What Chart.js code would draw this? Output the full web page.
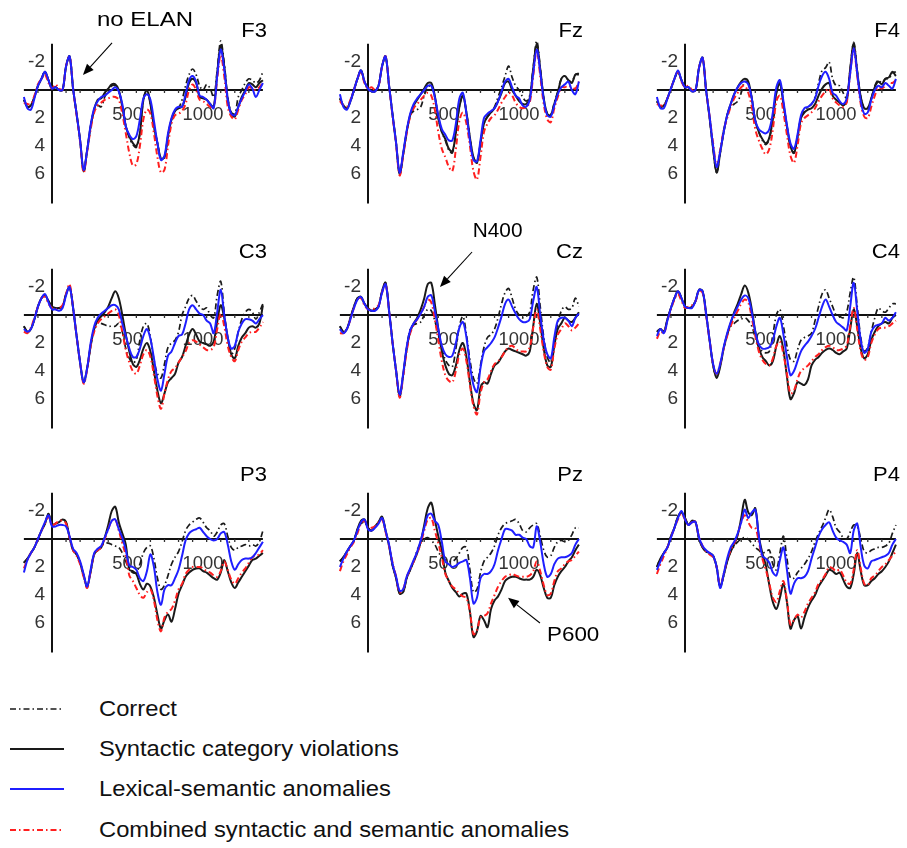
<!DOCTYPE html>
<html>
<head>
<meta charset="utf-8">
<script src="https://cdn.jsdelivr.net/npm/chart.js@4.4.1/dist/chart.umd.min.js"></script>
<style>
  html, body { margin: 0; padding: 0; background: #fff; }
  body { width: 907px; height: 848px; position: relative; overflow: hidden;
         font-family: "Liberation Sans", Arial, sans-serif; }
  canvas.panel { position: absolute; }
  .leg-line { position: absolute; left: 8px; }
  .leg-text { position: absolute; left: 99px; font-size: 22px; color: #111;
              line-height: 26px; white-space: nowrap; transform-origin: left center;
              transform: scaleX(1.08); }
</style>
</head>
<body>
<script>
// time axis (ms), shared by every panel
const times = [
  -200, -175, -150, -125, -100, -75, -50, -25,
  0, 25, 50, 75, 100, 125, 150, 175,
  200, 225, 250, 275, 300, 325, 350, 375,
  400, 425, 450, 475, 500, 525, 550, 575,
  600, 625, 650, 675, 700, 725, 750, 775,
  800, 825, 850, 875, 900, 925, 950, 975,
  1000, 1025, 1050, 1075, 1100, 1125, 1150, 1175,
  1200, 1225, 1250, 1275, 1300, 1325, 1350, 1375,
  1400, 1425, 1450, 1475, 1500
];

const yTicks = [-2, 2, 4, 6];
const yTickLabels = ['-2', '2', '4', '6'];
const xTicks = [500, 1000];
const xTickLabels = ['500', '1000'];
const xMinorTicks = [-100, 100, 200, 300, 400, 500, 600, 700, 800, 900, 1000, 1100, 1200, 1300, 1400];

const seriesNames = [
  'Correct',
  'Syntactic category violations',
  'Lexical-semantic anomalies',
  'Combined syntactic and semantic anomalies'
];

// ---- F3 ----
const f3Correct = [
  0.7, 1.2, 1.1, 0.5, -0.3, -0.8, -1.3, -0.7,
  -0.1, -0.2, 0, 0, -1.7, -2.4, -0.1, 1.7,
  3.6, 5.8, 4.3, 2.6, 1.4, 1.1, 1.2, 0.5,
  0, -0.3, -0.3, 0.1, 1.2, 2.6, 3.4, 3.9,
  4.1, 3.1, 0.7, 0, 1.0, 2.6, 3.8, 4.9,
  4.8, 3.3, 2.1, 1.5, 1.3, 0.7, -0.3, -1.1,
  -1.5, -1.1, -0.3, 0, -0.4, -0.1, 0.5, -1.4,
  -3.5, -1.9, 0.5, 1.6, 1.7, 0.5, 0, -0.5,
  -0.8, -0.7, -0.5, -0.7, -1.3
];
const f3Syntactic = [
  0.7, 1.2, 1.1, 0.5, -0.3, -0.8, -1.3, -0.7,
  -0.1, -0.2, 0, 0, -1.7, -2.4, -0.1, 1.7,
  3.6, 5.8, 4.3, 2.6, 1.4, 0.7, 0.6, 0.2,
  -0.1, -0.4, -0.4, 0, 1.2, 2.6, 3.3, 3.8,
  4.0, 3.1, 0.7, 0, 1.0, 2.6, 3.8, 4.9,
  4.8, 3.3, 2.1, 1.5, 1.3, 1.2, 0.5, -0.5,
  -0.8, -0.5, 0.5, 0.6, 0.7, 1.0, 1.2, -1.2,
  -3.2, -1.7, 0.7, 1.7, 1.9, 1.2, 0.5, 0,
  -0.5, -0.4, -0.2, -0.5, -0.7
];
const f3Lexical = [
  0.5, 1.3, 1.4, 0.6, -0.3, -0.8, -1.3, -0.7,
  -0.1, -0.2, 0, 0, -1.7, -2.4, -0.1, 1.7,
  3.6, 5.7, 4.3, 2.5, 1.3, 0.8, 0.5, 0.4,
  0.2, 0, -0.2, 0.1, 1.0, 2.6, 3.2, 3.5,
  3.3, 2.1, 0.6, 0.3, 0.7, 2.2, 3.8, 5.0,
  4.7, 3.1, 2.0, 1.4, 1.2, 1.2, 0.3, -0.7,
  -1.0, -0.6, 0.4, 0.5, 0.7, 1.0, 1.3, -1.0,
  -2.9, -1.5, 0.7, 1.7, 1.8, 1.2, 0.6, 0.1,
  -0.4, -0.1, 0.5, 0, -0.5
];
const f3Combined = [
  0.9, 1.0, 1.0, 0.4, -0.4, -0.8, -1.1, -0.5,
  -0.1, -0.4, -0.1, 0, -1.7, -2.4, -0.1, 1.8,
  3.7, 5.9, 4.4, 2.8, 1.6, 1.1, 0.9, 0.7,
  0.6, 0.5, 0.5, 0.7, 1.7, 3.1, 4.5, 5.4,
  5.3, 4.0, 2.1, 1.4, 1.7, 3.1, 4.8, 5.9,
  5.7, 4.0, 2.4, 1.8, 1.7, 1.5, 1.0, 0,
  -0.4, 0, 0.7, 0.8, 1.0, 1.2, 1.3, -0.8,
  -2.5, -1.0, 1.2, 1.9, 2.1, 1.4, 0.7, 0.3,
  -0.2, -0.1, 0, -0.2, -0.5
];

// ---- Fz ----
const fzCorrect = [
  0.6, 1.1, 1.3, 0.8, 0, -0.8, -1.4, -0.6,
  -0.1, 0.1, 0.1, -0.3, -1.7, -2.4, -0.3, 1.8,
  3.8, 6.0, 4.6, 3.0, 1.8, 1.5, 1.4, 1.2,
  0.4, -0.2, -0.3, 0.5, 2.0, 3.0, 3.6, 4.3,
  4.5, 3.1, 1.2, 0.4, 1.6, 3.4, 4.8, 5.2,
  3.8, 2.4, 1.9, 1.6, 1.2, 0.5, -0.2, -1.0,
  -1.7, -0.9, -0.3, 0, 0.5, 0.8, 0.4, -1.6,
  -3.5, -1.6, 0.6, 1.7, 1.8, 0.9, 0.1, -0.8,
  -1.0, -0.7, -0.6, -1.1, -1.2
];
const fzSyntactic = [
  0.6, 1.1, 1.3, 0.8, 0, -0.8, -1.4, -0.6,
  -0.1, 0.1, 0.1, -0.3, -1.7, -2.4, -0.3, 1.8,
  3.8, 6.0, 4.6, 3.0, 1.8, 1.1, 0.7, 0.3,
  -0.1, -0.5, -0.5, 0.4, 2.0, 3.0, 3.5, 4.2,
  4.4, 3.0, 1.2, 0.4, 1.6, 3.4, 4.8, 5.2,
  3.8, 2.4, 1.9, 1.6, 1.3, 0.8, 0.2, -0.5,
  -0.6, 0, 0.4, 0.8, 1.0, 1.0, 0.6, -1.5,
  -3.3, -1.5, 0.6, 1.7, 1.8, 1.0, 0.2, -0.8,
  -1.0, -0.7, -0.5, -1.1, -1.1
];
const fzLexical = [
  0.3, 1.2, 1.4, 0.8, 0, -0.8, -1.4, -0.6,
  -0.1, 0.1, 0.1, -0.3, -1.7, -2.4, -0.3, 1.8,
  3.8, 5.9, 4.5, 2.9, 1.7, 1.0, 0.6, 0.3,
  0, -0.3, -0.3, 0.5, 1.8, 2.8, 3.2, 3.6,
  3.6, 2.4, 0.6, 0.2, 1.7, 3.6, 5.0, 5.1,
  3.6, 2.0, 1.7, 1.5, 1.3, 0.8, 0.1, -0.6,
  -0.8, -0.2, 0.4, 0.6, 1.1, 1.2, 0.7, -1.2,
  -2.9, -1.3, 0.7, 1.8, 1.9, 1.1, 0.3, -0.2,
  -0.4, -0.6, 0, 0.3, -0.6
];
const fzCombined = [
  0.8, 1.1, 1.2, 0.7, 0, -0.8, -1.3, -0.5,
  -0.1, -0.2, 0, -0.3, -1.7, -2.4, -0.3, 1.9,
  3.9, 6.1, 4.7, 3.1, 1.9, 1.3, 1.0, 0.7,
  0.4, 0.2, 0.4, 1.4, 3.0, 4.2, 4.8, 5.5,
  5.8, 4.2, 2.2, 1.6, 2.4, 4.0, 5.8, 6.4,
  4.8, 3.0, 2.4, 2.0, 1.8, 1.4, 0.9, 0.5,
  0.2, 0.4, 0.9, 1.2, 1.3, 1.2, 0.9, -1.0,
  -2.8, -1.0, 1.0, 2.1, 2.3, 1.3, 0.5, -0.2,
  -0.2, -0.3, -0.2, -0.1, -0.6
];

// ---- F4 ----
const f4Correct = [
  0.8, 1.2, 1.1, 0.6, -0.1, -0.8, -1.3, -0.7,
  -0.2, -0.2, 0.1, 0, -1.6, -2.3, 0, 2.0,
  4.2, 5.9, 4.5, 3.0, 1.8, 1.2, 1.0, 0.8,
  0.2, -0.6, -0.5, 0.6, 2.2, 3.0, 3.6, 3.9,
  3.5, 2.0, 0.2, -0.5, 1.0, 2.6, 4.0, 4.5,
  3.4, 2.0, 1.5, 1.2, 1.0, 0.5, -0.5, -1.4,
  -1.6, -2.0, -0.8, -0.3, -0.3, 0.2, 0.6, -1.5,
  -3.4, -1.4, 0.5, 1.3, 1.3, 0.6, -0.3, -0.7,
  -0.5, -0.8, -0.8, -1.2, -1.3
];
const f4Syntactic = [
  0.8, 1.2, 1.1, 0.6, -0.1, -0.8, -1.3, -0.7,
  -0.2, -0.2, 0.1, 0, -1.6, -2.3, 0, 2.0,
  4.2, 5.9, 4.5, 3.0, 1.8, 1.0, 0.3, -0.2,
  -0.6, -0.8, -0.6, 0.6, 2.2, 3.0, 3.5, 3.8,
  3.4, 2.0, 0.2, -0.5, 1.0, 2.6, 4.0, 4.5,
  3.4, 2.0, 1.6, 1.4, 1.3, 1.0, 0.4, -0.1,
  -0.4, -0.5, 0.4, 0.7, 0.9, 1.1, 0.8, -1.5,
  -3.3, -1.3, 0.5, 1.3, 1.3, 0.6, -0.2, -0.6,
  -0.4, -0.8, -0.9, -1.3, -1.0
];
const f4Lexical = [
  0.5, 1.3, 1.3, 0.6, -0.1, -0.8, -1.4, -0.7,
  -0.2, -0.2, 0.1, 0, -1.6, -2.3, 0, 1.9,
  4.0, 5.5, 4.4, 3.0, 1.8, 1.0, 0.3, -0.2,
  -0.5, -0.6, -0.4, 0.6, 2.2, 2.8, 3.0, 3.1,
  2.8, 1.6, -0.2, -0.7, 0.8, 2.5, 3.8, 4.2,
  3.2, 1.8, 1.3, 1.2, 1.0, 0.6, -0.3, -1.0,
  -1.3, -0.8, 0.2, 0.4, 0.8, 1.0, 0.6, -1.2,
  -3.0, -1.2, 0.8, 1.7, 1.6, 0.7, 0, -0.3,
  -0.2, -0.5, -0.3, -0.1, -0.8
];
const f4Combined = [
  1.0, 1.1, 1.1, 0.6, -0.1, -0.8, -1.3, -0.6,
  -0.2, -0.3, 0, 0, -1.6, -2.3, 0, 1.9,
  3.8, 5.4, 4.3, 2.9, 2.0, 1.2, 0.6, 0.2,
  -0.2, -0.3, 0.2, 1.2, 2.8, 3.6, 4.2, 4.6,
  4.2, 2.8, 0.8, 0.4, 1.6, 3.2, 4.7, 5.2,
  4.0, 2.4, 2.0, 1.8, 1.6, 1.3, 0.8, 0.4,
  0.1, -0.1, 0.6, 0.9, 1.1, 1.2, 0.9, -1.2,
  -2.9, -1.0, 1.0, 1.9, 2.0, 1.2, 0.4, -0.2,
  -0.1, -0.3, -0.5, -0.5, -0.7
];

// ---- C3 ----
const c3Correct = [
  0.8, 1.2, 1.0, 0.3, -0.6, -1.2, -1.4, -1.0,
  -0.6, -0.5, -0.5, -0.6, -1.5, -2.0, -0.5, 1.5,
  3.4, 4.8, 3.8, 2.2, 1.0, 0.5, 0.6, 0.7,
  0.8, 0.8, 0.8, 0.6, 1.2, 2.4, 3.1, 3.4,
  3.2, 1.8, 0.8, 0.6, 1.6, 3.2, 4.2, 4.5,
  3.5, 2.3, 2.0, 1.8, 1.2, 0, -0.6, -1.2,
  -1.4, -1.0, -0.6, -0.4, -0.5, 0, 0.2, -1.4,
  -2.4, -0.2, 1.8, 2.8, 2.4, 1.2, 0.3, -0.2,
  -0.4, -0.2, 0.3, -0.2, -0.8
];
const c3Syntactic = [
  0.8, 1.2, 1.0, 0.3, -0.6, -1.2, -1.4, -1.0,
  -0.6, -0.5, -0.5, -0.6, -1.5, -2.0, -0.5, 1.5,
  3.4, 4.8, 3.8, 2.2, 1.0, 0.4, 0.1, -0.2,
  -0.6, -1.2, -1.7, -1.2, 0, 1.4, 2.6, 3.5,
  3.7, 3.2, 2.4, 2.0, 2.6, 4.0, 5.4, 6.3,
  5.6, 4.8, 4.5, 4.2, 3.4, 3.0, 2.2, 1.4,
  1.0, 1.4, 1.9, 2.0, 2.1, 2.2, 1.9, 0.5,
  -0.7, 0.2, 1.6, 2.8, 3.1, 2.2, 1.6, 1.3,
  0.9, 0.8, 0.9, 0.6, -0.7
];
const c3Lexical = [
  1.0, 1.2, 1.0, 0.3, -0.6, -1.2, -1.5, -0.9,
  -0.4, -0.4, -0.3, -0.5, -1.4, -2.0, -0.5, 1.5,
  3.4, 4.8, 3.8, 2.0, 0.8, 0.2, -0.1, -0.3,
  -0.5, -0.7, -0.7, -0.4, 0.6, 1.5, 2.4, 3.0,
  3.0, 2.4, 1.5, 1.0, 1.7, 3.1, 4.6, 5.4,
  4.2, 2.9, 2.6, 2.0, 1.5, 1.4, 0.6, -0.4,
  -0.7, -0.4, -0.1, 0, 0.4, 0.6, 1.3, -0.2,
  -1.8, 0, 1.6, 2.4, 2.2, 1.2, 0.6, 0.3,
  0.3, 0.4, 0.6, 0.3, 0
];
const c3Combined = [
  1.2, 1.3, 0.9, 0.2, -0.6, -1.2, -1.3, -0.8,
  -0.5, -0.4, -0.5, -0.7, -1.5, -2.2, -0.5, 1.5,
  3.4, 4.9, 3.9, 2.2, 1.2, 0.6, 0.3, 0.1,
  -0.1, -0.3, -0.4, 0, 1.2, 2.5, 3.4, 4.0,
  4.2, 3.6, 2.8, 2.5, 3.0, 4.3, 5.8, 6.7,
  5.6, 4.6, 4.0, 3.8, 3.4, 3.0, 2.6, 2.0,
  1.8, 1.9, 2.1, 2.3, 2.5, 2.5, 2.3, 1.0,
  -0.1, 0.8, 2.2, 3.0, 3.3, 2.5, 1.9, 1.6,
  1.3, 1.2, 1.2, 0.9, 0.5
];

// ---- Cz ----
const czCorrect = [
  0.8, 1.2, 1.0, 0.2, -0.6, -1.2, -1.2, -0.8,
  -0.5, -0.3, -0.4, -0.6, -1.7, -2.3, -0.3, 2.0,
  4.0, 5.8, 4.3, 2.4, 1.0, 0.7, 0.6, 0.5,
  0, -0.4, -0.3, 0.4, 1.4, 2.4, 3.2, 3.6,
  3.7, 2.4, 0.8, 0.1, 1.4, 3.2, 4.5, 4.9,
  3.6, 2.3, 1.6, 1.4, 1.0, 0.2, -0.8, -1.6,
  -1.9, -1.2, -0.4, 0, 0.2, 0.1, -0.2, -1.8,
  -2.7, -0.6, 1.6, 3.0, 3.4, 1.8, 0.6, -0.3,
  -0.6, -0.4, -0.5, -1.2, -0.6
];
const czSyntactic = [
  0.8, 1.2, 1.0, 0.2, -0.6, -1.2, -1.3, -0.8,
  -0.5, -0.3, -0.4, -0.6, -1.7, -2.3, -0.3, 2.0,
  4.0, 5.8, 4.3, 2.4, 1.2, 0.6, 0.2, -0.4,
  -1.2, -2.2, -2.3, -0.8, 1.0, 2.6, 3.6, 4.2,
  4.3, 3.6, 2.5, 2.0, 3.0, 4.8, 6.3, 6.8,
  5.2, 4.8, 4.9, 4.2, 3.6, 3.4, 3.0, 2.6,
  2.4, 2.5, 2.6, 2.7, 2.8, 2.9, 2.6, 0.8,
  -0.8, 0.6, 2.4, 3.6, 3.7, 2.2, 1.0, 0.6,
  0.2, 0.4, 0.5, 0.2, -0.2
];
const czLexical = [
  1.0, 1.3, 1.0, 0.3, -0.5, -1.1, -1.3, -0.8,
  -0.4, -0.3, -0.3, -0.6, -1.6, -2.2, -0.3, 2.0,
  4.0, 5.7, 4.2, 2.3, 1.1, 0.6, 0.3, -0.1,
  -0.6, -1.3, -1.4, -0.3, 1.0, 2.2, 2.8, 3.0,
  2.9, 2.0, 0.9, 0.5, 1.6, 3.6, 5.0, 5.5,
  3.8, 2.6, 2.3, 2.0, 1.6, 0.9, 0.1, -0.8,
  -1.1, -0.6, -0.1, 0.3, 0.5, 0.5, 0.3, -1.0,
  -2.0, 0, 1.8, 2.8, 3.1, 1.6, 0.4, 0.2,
  0.2, 0.4, 0.8, 0.2, -0.1
];
const czCombined = [
  1.3, 1.3, 1.0, 0.3, -0.5, -1.1, -1.2, -0.7,
  -0.4, -0.4, -0.5, -0.7, -1.6, -2.2, -0.3, 2.0,
  4.0, 5.9, 4.4, 2.6, 1.3, 0.7, 0.3, -0.1,
  -0.6, -1.1, -0.9, 0.3, 1.8, 3.3, 4.3, 4.7,
  4.8, 4.0, 2.8, 2.4, 3.3, 5.0, 6.5, 7.1,
  5.6, 4.8, 4.6, 4.0, 3.5, 3.3, 3.0, 2.6,
  2.3, 2.2, 2.4, 2.6, 2.6, 2.6, 2.3, 0.9,
  -0.4, 1.0, 2.6, 3.7, 3.9, 2.4, 1.4, 1.0,
  0.6, 0.8, 1.1, 0.9, 0.6
];

// ---- C4 ----
const c4Correct = [
  1.2, 1.0, 1.2, 0.3, -0.5, -1.2, -1.7, -1.2,
  -0.6, -0.5, -0.6, -1.0, -1.8, -1.7, -0.1, 1.8,
  3.6, 4.4, 3.6, 2.4, 1.4, 0.8, 0.6, 0.4,
  0.3, 0.2, 0.4, 0.8, 1.6, 2.3, 2.6, 2.7,
  2.6, 1.4, 0, -0.4, 0.8, 2.2, 3.2, 3.3,
  2.5, 1.8, 1.6, 1.5, 1.3, 0.4, -0.6, -1.5,
  -1.8, -1.2, -0.6, 0, 0.1, 0.2, -0.2, -1.6,
  -2.7, -0.6, 1.6, 2.6, 2.3, 1.2, 0.2, -0.5,
  -0.3, -0.2, -0.5, -0.8, -0.8
];
const c4Syntactic = [
  1.2, 1.0, 1.2, 0.3, -0.5, -1.2, -1.7, -1.2,
  -0.6, -0.5, -0.6, -1.0, -1.8, -1.7, -0.1, 1.8,
  3.6, 4.5, 3.7, 2.4, 1.4, 0.6, -0.2, -0.8,
  -1.5, -2.1, -1.6, -0.4, 1.2, 2.3, 3.0, 3.3,
  3.6, 3.3, 2.2, 1.5, 2.5, 4.4, 6.0, 5.6,
  4.8, 4.9, 5.0, 4.6, 3.6, 3.2, 3.0, 2.7,
  2.5, 2.4, 2.5, 2.7, 2.8, 2.6, 2.4, 1.0,
  -0.4, 0.8, 2.4, 3.1, 2.8, 1.8, 1.2, 0.8,
  0.6, 0.5, 0.6, 0.2, 0
];
const c4Lexical = [
  1.5, 1.0, 1.3, 0.4, -0.5, -1.2, -1.7, -1.2,
  -0.6, -0.5, -0.5, -1.0, -1.8, -1.7, -0.1, 1.8,
  3.5, 4.2, 3.5, 2.3, 1.3, 0.5, -0.1, -0.6,
  -1.1, -1.4, -1.2, -0.2, 1.2, 2.1, 2.4, 2.4,
  2.3, 1.8, 0.8, 0.2, 1.4, 3.0, 4.3, 4.0,
  3.3, 2.6, 2.2, 1.9, 1.5, 1.0, 0.2, -0.6,
  -1.1, -0.6, 0, 0.5, 0.7, 0.9, 1.1, -0.6,
  -2.3, -0.3, 1.8, 2.7, 2.4, 1.2, 0.8, 0.7,
  0.6, 0.2, 0.4, 0.2, -0.2
];
const c4Combined = [
  1.7, 1.2, 1.3, 0.4, -0.4, -1.1, -1.5, -1.0,
  -0.5, -0.6, -0.7, -1.0, -1.7, -1.6, 0, 1.8,
  3.5, 4.2, 3.5, 2.4, 1.5, 0.8, 0.2, -0.3,
  -0.8, -1.1, -0.9, 0.2, 1.5, 2.6, 3.2, 3.5,
  3.6, 3.1, 2.2, 1.9, 2.8, 4.2, 5.6, 5.4,
  4.6, 4.0, 3.8, 3.6, 3.3, 3.0, 2.8, 2.5,
  2.3, 2.2, 2.3, 2.5, 2.5, 2.4, 2.2, 0.8,
  -0.5, 1.0, 2.6, 3.2, 3.0, 2.0, 1.4, 1.0,
  0.9, 0.9, 0.8, 0.6, 0.4
];

// ---- P3 ----
const p3Correct = [
  1.7, 1.4, 1.0, 0.6, 0, -0.6, -1.1, -1.8,
  -1.0, -1.1, -1.2, -1.4, -1.2, -0.1, 0.8, 1.1,
  1.7, 2.6, 3.4, 2.3, 1.1, 0.8, 0.5, 0.3,
  0.3, 0.4, 0.5, 0.6, 1.0, 1.6, 2.2, 2.4,
  2.4, 1.8, 1.0, 0.6, 0.5, 1.4, 2.8, 3.6,
  3.3, 2.6, 1.8, 1.3, 0.9, 0.2, -0.6, -1.0,
  -1.2, -1.4, -1.5, -1.2, -0.8, -0.6, -0.2, -0.5,
  -1.0, -1.1, -0.2, 0.6, 0.8, 0.6, 0.5, 0.4,
  0.5, 0.4, 0.5, 0.2, -0.6
];
const p3Syntactic = [
  1.7, 1.4, 1.0, 0.6, 0, -0.6, -1.1, -1.8,
  -1.0, -1.1, -1.2, -1.4, -1.2, -0.1, 0.8, 1.1,
  1.7, 2.6, 3.4, 2.3, 1.1, 0.8, 0.6, -0.1,
  -1.0, -2.0, -2.3, -1.2, -0.4, 0.4, 2.2, 2.3,
  2.5, 3.2, 3.6, 3.2, 3.4, 4.2, 5.4, 6.4,
  5.8, 5.4, 5.9, 5.0, 3.9, 3.3, 2.7, 2.4,
  2.2, 2.1, 2.1, 2.3, 2.4, 2.6, 2.8, 2.9,
  2.4, 1.5, 2.3, 3.1, 3.5, 3.1, 2.7, 2.3,
  1.9, 1.5, 1.4, 1.2, 1.0
];
const p3Lexical = [
  2.4, 1.5, 1.0, 0.6, 0, -0.6, -1.2, -1.7,
  -0.9, -0.9, -1.0, -1.0, -0.9, -0.2, 0.7, 1.0,
  1.6, 2.5, 3.4, 2.2, 1.0, 0.7, 0.5, -0.1,
  -0.7, -1.3, -1.4, -0.7, -0.1, 0.8, 1.9, 2.0,
  2.2, 2.8, 3.0, 2.3, 1.1, 2.0, 3.8, 4.7,
  3.6, 3.3, 3.3, 2.8, 2.2, 1.2, 0.1, -0.4,
  -0.6, -0.7, -0.8, -0.5, -0.2, 0, 0.1, 0,
  -0.4, -0.5, 0.4, 1.6, 2.2, 1.8, 1.5, 1.4,
  1.4, 1.3, 1.0, 0.6, 0.2
];
const p3Combined = [
  2.1, 1.5, 1.0, 0.6, 0, -0.6, -1.1, -1.6,
  -1.0, -1.1, -1.3, -1.3, -1.1, -0.1, 0.8, 1.2,
  1.8, 2.7, 3.5, 2.3, 1.1, 0.8, 0.6, 0,
  -0.7, -1.3, -1.4, -0.6, 0.3, 1.2, 2.6, 3.0,
  3.5, 4.0, 4.2, 3.8, 3.6, 4.4, 5.8, 6.6,
  5.6, 5.2, 5.0, 4.4, 3.6, 3.2, 2.5, 2.2,
  2.0, 2.0, 2.0, 2.1, 2.3, 2.4, 2.6, 2.7,
  2.3, 1.6, 2.2, 2.9, 3.2, 2.8, 2.4, 2.1,
  1.7, 1.3, 1.2, 1.1, 0.8
];

// ---- Pz ----
const pzCorrect = [
  1.6, 1.3, 0.9, 0.5, 0.1, -0.7, -1.1, -1.2,
  -0.8, -0.6, -0.9, -1.2, -1.5, -0.6, 0.5, 1.9,
  2.8, 3.9, 3.8, 2.8, 2.2, 1.6, 0.8, 0.3,
  0, -0.1, 0.1, 0.4, 0.9, 1.3, 1.5, 1.6,
  1.6, 1.4, 1.0, 0.6, 0.6, 2.2, 3.8, 3.6,
  2.4, 1.6, 1.3, 1.0, 0.5, -0.3, -0.8, -1.1,
  -1.2, -1.3, -1.4, -1.1, -0.6, -0.5, -0.8, -1.0,
  -1.1, -0.2, 0.8, 1.3, 1.2, 0.6, 0.2, 0.1,
  0.2, 0.1, -0.3, -0.8, -0.8
];
const pzSyntactic = [
  1.6, 1.3, 0.9, 0.5, 0.1, -0.7, -1.3, -1.4,
  -0.8, -0.6, -0.9, -1.2, -1.6, -0.6, 0.5, 1.9,
  2.8, 3.9, 3.8, 2.8, 2.2, 1.6, 1.0, 0.2,
  -1.0, -2.2, -2.6, -1.4, -0.2, 0.8, 2.4, 3.0,
  3.5, 3.8, 4.1, 3.9, 3.9, 5.2, 7.0, 6.6,
  5.5, 5.8, 6.3, 5.0, 4.4, 4.1, 3.6, 3.0,
  2.8, 2.7, 2.7, 2.8, 2.9, 2.9, 2.9, 2.7,
  2.2, 2.6, 3.5, 4.2, 4.2, 3.3, 2.7, 2.3,
  2.0, 1.6, 1.3, 0.8, 0.4
];
const pzLexical = [
  2.0, 1.4, 0.9, 0.5, 0.1, -0.6, -1.2, -1.4,
  -0.7, -0.6, -0.8, -1.1, -1.5, -0.6, 0.4, 1.8,
  2.7, 3.7, 3.6, 2.7, 2.1, 1.5, 0.9, 0.1,
  -0.8, -1.7, -1.8, -1.3, -1.0, 0.2, 1.6, 1.8,
  2.0, 1.9, 1.7, 1.6, 1.5, 2.8, 4.6, 4.2,
  2.8, 2.5, 2.5, 2.3, 1.8, 0.8, 0, -0.7,
  -0.7, -0.6, -0.3, -0.3, -0.1, 0, 0.5, 0.6,
  -0.9, 0.2, 1.8, 2.7, 2.5, 1.8, 1.4, 1.3,
  1.3, 1.2, 1.0, 0.4, 0
];
const pzCombined = [
  2.3, 1.6, 1.1, 0.6, 0.2, -0.4, -1.1, -1.3,
  -0.8, -0.8, -0.9, -1.2, -1.4, -0.5, 0.5, 1.7,
  2.7, 3.8, 3.6, 2.7, 2.2, 1.6, 1.0, 0.3,
  -0.6, -1.4, -1.5, -0.6, 0.3, 1.3, 2.5, 3.0,
  3.4, 3.6, 3.9, 4.1, 4.2, 5.2, 6.8, 6.5,
  5.6, 5.5, 5.3, 4.6, 4.0, 3.4, 3.0, 2.7,
  2.6, 2.5, 2.6, 2.7, 2.7, 2.7, 2.6, 2.3,
  1.6, 2.3, 3.3, 4.0, 3.9, 3.0, 2.3, 2.1,
  1.8, 1.6, 1.5, 1.2, 0.9
];

// ---- P4 ----
const p4Correct = [
  2.0, 1.4, 1.0, 0.6, -0.2, -0.8, -1.6, -1.9,
  -1.5, -1.0, -1.3, -1.2, 0, 0.6, 0.9, 1.0,
  1.2, 2.0, 3.4, 2.6, 1.6, 0.9, 0.5, 0.2,
  0, -0.1, 0, 0.3, 0.6, 0.8, 1.0, 0.9,
  0.8, 1.8, 2.2, 1.0, -0.2, 1.4, 2.8, 2.8,
  2.4, 2.1, 1.8, 1.4, 0.9, 0.2, -0.4, -0.9,
  -1.5, -2.1, -1.6, -0.8, -0.5, -0.1, 0, -0.5,
  -1.0, -0.9, 0, 0.9, 1.0, 0.8, 0.7, 0.6,
  0.6, 0.5, 0.3, -0.4, -1.0
];
const p4Syntactic = [
  2.0, 1.4, 1.0, 0.6, -0.2, -0.8, -1.6, -1.9,
  -1.5, -1.0, -1.3, -1.2, 0, 0.6, 0.9, 1.0,
  1.2, 2.0, 3.4, 2.6, 1.6, 0.9, 0.4, -0.3,
  -1.5, -2.8, -1.9, -1.7, -2.2, -0.2, 1.0, 1.9,
  3.3, 4.5, 5.0, 4.2, 3.2, 4.5, 6.4, 5.8,
  5.5, 6.4, 5.6, 4.9, 4.4, 4.0, 3.4, 3.0,
  2.6, 2.2, 2.3, 2.5, 2.4, 2.9, 3.4, 3.5,
  2.5, 1.0, 2.3, 3.3, 3.3, 3.0, 2.8, 2.5,
  2.3, 2.0, 1.6, 1.0, 0.4
];
const p4Lexical = [
  2.2, 1.6, 1.0, 0.6, -0.1, -0.8, -1.5, -2.0,
  -1.4, -1.0, -1.2, -1.2, -0.1, 0.5, 0.8, 1.0,
  1.2, 2.0, 3.5, 2.5, 1.4, 0.6, 0.2, -0.4,
  -1.2, -2.1, -1.5, -1.9, -2.1, -0.2, 1.2, 1.4,
  1.7, 2.4, 2.6, 1.5, 0.6, 2.2, 3.9, 3.2,
  2.8, 2.8, 2.7, 2.3, 1.4, 0.6, -0.2, -0.7,
  -1.0, -1.2, -0.6, -0.1, 0.1, 0.2, 0.4, 1.0,
  -0.6, -1.1, 0.6, 1.9, 2.1, 1.6, 1.5, 1.4,
  1.3, 1.2, 1.0, 0.4, 0
];
const p4Combined = [
  2.5, 1.8, 1.2, 0.6, -0.1, -0.8, -1.4, -1.8,
  -1.4, -1.0, -1.2, -1.2, -0.1, 0.5, 0.9, 1.1,
  1.3, 2.0, 3.4, 2.5, 1.5, 0.8, 0.3, -0.3,
  -1.2, -1.7, -1.2, -0.8, -0.8, 0.2, 1.4, 2.2,
  3.2, 4.2, 4.5, 3.7, 3.0, 4.4, 6.1, 5.8,
  5.4, 5.6, 5.2, 4.6, 4.2, 3.8, 3.2, 2.9,
  2.5, 2.0, 2.1, 2.3, 2.2, 2.6, 3.1, 3.2,
  2.2, 0.8, 2.1, 3.2, 3.3, 2.8, 2.6, 2.3,
  2.0, 1.8, 1.5, 1.2, 0.9
];

// ---- layout ----
const X_MIN = -200, X_MAX = 1500, Y_MIN = -3.4, Y_MAX = 8.2;
const pxPerMs = 0.1406, pxPerUv = 14;
const colAxisX = [52, 368, 685];
const rowZeroY = [90, 315, 539];
const titleDy = [-59, -63, -64];

const styles = [
  { color: '#1a1a1a', dash: [6, 3, 1.5, 3], width: 1.7, order: 3 },
  { color: '#1a1a1a', dash: [], width: 2, order: 2 },
  { color: '#1f1fff', dash: [], width: 2, order: 0 },
  { color: '#ff1f1f', dash: [6, 3, 1.5, 3], width: 2, order: 1 }
];

const panels = [
  { name: 'F3', col: 0, row: 0, series: [f3Correct, f3Syntactic, f3Lexical, f3Combined],
    notes: [{ text: 'no ELAN', at: [320, -4.95], sx: 1.2, from: [427, -3.36], to: [220, -1.07] }] },
  { name: 'Fz', col: 1, row: 0, series: [fzCorrect, fzSyntactic, fzLexical, fzCombined], notes: [] },
  { name: 'F4', col: 2, row: 0, series: [f4Correct, f4Syntactic, f4Lexical, f4Combined], notes: [] },
  { name: 'C3', col: 0, row: 1, series: [c3Correct, c3Syntactic, c3Lexical, c3Combined], notes: [] },
  { name: 'Cz', col: 1, row: 1, series: [czCorrect, czSyntactic, czLexical, czCombined],
    notes: [{ text: 'N400', at: [745, -6.0], sx: 1.04, from: [740, -4.5], to: [512, -2.0] }] },
  { name: 'C4', col: 2, row: 1, series: [c4Correct, c4Syntactic, c4Lexical, c4Combined], notes: [] },
  { name: 'P3', col: 0, row: 2, series: [p3Correct, p3Syntactic, p3Lexical, p3Combined], notes: [] },
  { name: 'Pz', col: 1, row: 2, series: [pzCorrect, pzSyntactic, pzLexical, pzCombined],
    notes: [{ text: 'P600', at: [1273, 6.86], sx: 1.12, from: [1223, 6.0], to: [996, 4.2] }] },
  { name: 'P4', col: 2, row: 2, series: [p4Correct, p4Syntactic, p4Lexical, p4Combined], notes: [] }
];

const FONT = '"Liberation Sans", Arial, sans-serif';

function stretchText(ctx, str, x, y, align, sx) {
  ctx.save();
  ctx.translate(x, y);
  ctx.scale(sx, 1);
  ctx.textAlign = align;
  ctx.fillText(str, 0, 0);
  ctx.restore();
}

const erpAxes = {
  id: 'erpAxes',
  beforeDatasetsDraw(chart) {
    const { ctx, scales: { x, y } } = chart;
    const x0 = x.getPixelForValue(0);
    const y0 = y.getPixelForValue(0);
    ctx.save();
    ctx.strokeStyle = '#111';
    ctx.lineWidth = 2;
    ctx.beginPath();
    ctx.moveTo(x.getPixelForValue(X_MIN), y0);
    ctx.lineTo(x.getPixelForValue(X_MAX), y0);
    ctx.stroke();
    ctx.beginPath();
    ctx.moveTo(x0, y.getPixelForValue(-3.3));
    ctx.lineTo(x0, y.getPixelForValue(8.1));
    ctx.stroke();

    ctx.lineWidth = 1.3;
    ctx.strokeStyle = '#333';
    xMinorTicks.forEach(t => {
      const px = x.getPixelForValue(t);
      ctx.beginPath();
      ctx.moveTo(px, y0);
      ctx.lineTo(px, y0 + 3);
      ctx.stroke();
    });

    ctx.fillStyle = '#333';
    ctx.font = '18px ' + FONT;
    ctx.textBaseline = 'middle';
    yTicks.forEach((v, i) => stretchText(ctx, yTickLabels[i], x0 - 7, y.getPixelForValue(v), 'right', 1.06));
    xTicks.forEach((t, i) => stretchText(ctx, xTickLabels[i], x.getPixelForValue(t) - 10, y0 + 25, 'left', 1.02));
    ctx.restore();
  },
  afterDatasetsDraw(chart, args, opts) {
    const { ctx, chartArea, scales: { x, y } } = chart;
    const y0 = y.getPixelForValue(0);
    ctx.save();
    ctx.fillStyle = '#000';
    ctx.textBaseline = 'middle';
    ctx.font = '20px ' + FONT;
    stretchText(ctx, opts.title, chartArea.right + 4, y0 + opts.titleDy, 'right', 1.1);

    ctx.font = '20px ' + FONT;
    ctx.strokeStyle = '#000';
    ctx.lineWidth = 1.1;
    (opts.notes || []).forEach(n => {
      stretchText(ctx, n.text, x.getPixelForValue(n.at[0]), y.getPixelForValue(n.at[1]), 'left', n.sx);
      const fx = x.getPixelForValue(n.from[0]), fy = y.getPixelForValue(n.from[1]);
      const tx = x.getPixelForValue(n.to[0]), ty = y.getPixelForValue(n.to[1]);
      const ang = Math.atan2(ty - fy, tx - fx);
      const headLen = 11, headW = 4.5;
      const bx = tx - headLen * Math.cos(ang), by = ty - headLen * Math.sin(ang);
      ctx.beginPath();
      ctx.moveTo(fx, fy);
      ctx.lineTo(bx, by);
      ctx.stroke();
      ctx.beginPath();
      ctx.moveTo(tx, ty);
      ctx.lineTo(bx + headW * Math.sin(ang), by - headW * Math.cos(ang));
      ctx.lineTo(bx - headW * Math.sin(ang), by + headW * Math.cos(ang));
      ctx.closePath();
      ctx.fill();
    });
    ctx.restore();
  }
};

panels.forEach(p => {
  const axisX = colAxisX[p.col], zeroY = rowZeroY[p.row];
  const left = axisX - 52, top = zeroY - 100;
  const width = p.col === 2 ? 907 - left : 300, height = 220;
  const canvas = document.createElement('canvas');
  canvas.className = 'panel';
  canvas.width = width;
  canvas.height = height;
  canvas.style.left = left + 'px';
  canvas.style.top = top + 'px';
  canvas.style.width = width + 'px';
  canvas.style.height = height + 'px';
  document.body.appendChild(canvas);

  const padLeft = 52 + X_MIN * pxPerMs;
  const padTop = 100 + Y_MIN * pxPerUv;
  const plotW = (X_MAX - X_MIN) * pxPerMs;
  const plotH = (Y_MAX - Y_MIN) * pxPerUv;

  p.series.forEach((s, k) => {
    if (s.length !== times.length) console.warn(p.name, k, s.length);
  });

  new Chart(canvas.getContext('2d'), {
    type: 'line',
    data: {
      datasets: styles.map((st, k) => ({
        label: seriesNames[k],
        data: times.map((t, i) => ({ x: t, y: p.series[k][i] })),
        borderColor: st.color,
        borderWidth: st.width,
        borderDash: st.dash,
        order: st.order,
        pointRadius: 0,
        tension: 0.35,
        fill: false,
        clip: false
      }))
    },
    options: {
      responsive: false,
      animation: false,
      events: [],
      layout: {
        padding: {
          left: padLeft,
          top: padTop,
          right: width - padLeft - plotW,
          bottom: height - padTop - plotH
        }
      },
      scales: {
        x: { type: 'linear', min: X_MIN, max: X_MAX, display: false },
        y: { type: 'linear', min: Y_MIN, max: Y_MAX, reverse: true, display: false }
      },
      plugins: {
        legend: { display: false },
        tooltip: { enabled: false },
        erpAxes: { title: p.name, titleDy: titleDy[p.row], notes: p.notes }
      }
    },
    plugins: [erpAxes]
  });
});

// legend below the grid
const legendY = [709, 749, 789, 830];
seriesNames.forEach((name, k) => {
  const st = styles[k];
  const svgNS = 'http://www.w3.org/2000/svg';
  const svg = document.createElementNS(svgNS, 'svg');
  svg.setAttribute('width', '60');
  svg.setAttribute('height', '10');
  svg.setAttribute('class', 'leg-line');
  svg.style.top = (legendY[k] - 5) + 'px';
  const line = document.createElementNS(svgNS, 'line');
  line.setAttribute('x1', '2');
  line.setAttribute('y1', '5');
  line.setAttribute('x2', '56');
  line.setAttribute('y2', '5');
  line.setAttribute('stroke', st.color);
  line.setAttribute('stroke-width', st.width);
  if (st.dash.length) line.setAttribute('stroke-dasharray', st.dash.join(' '));
  svg.appendChild(line);
  document.body.appendChild(svg);

  const label = document.createElement('div');
  label.className = 'leg-text';
  label.style.top = (legendY[k] - 13) + 'px';
  label.textContent = name;
  document.body.appendChild(label);
});
</script>
</body>
</html>
